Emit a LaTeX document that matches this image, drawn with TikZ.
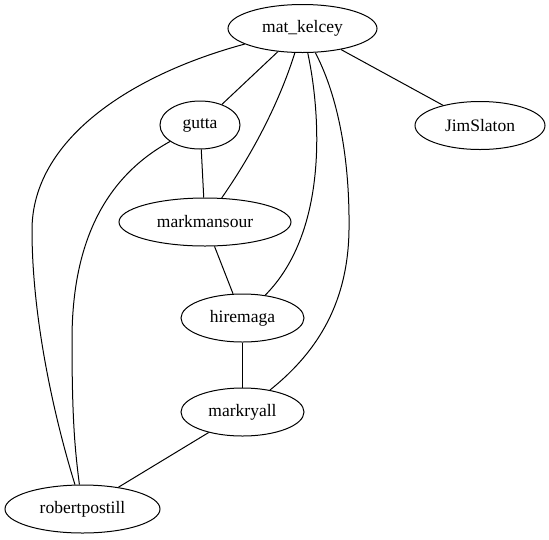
\documentclass[tikz,border=0pt]{standalone}
\usepackage{fontspec}
\setmainfont{Liberation Serif}
\usetikzlibrary{shapes.geometric}
\begin{document}
\begin{tikzpicture}[x=1pt,y=-1pt,
  gnode/.style={draw,ellipse,inner sep=0pt,line width=1pt,minimum height=48pt,font=\fontsize{17.5}{20}\selectfont},
  gedge/.style={line width=1pt}]
\useasboundingbox (0,0) rectangle (549,539);
\node[gnode,minimum width=149pt] (mk) at (302.5,28.5) {mat\_kelcey};
\node[gnode,minimum width=130pt] (js) at (480,125.5) {JimSlaton};
\node[gnode,minimum width=80pt] (gu) at (200,125) {gutta};
\node[gnode,minimum width=172pt] (mm) at (205,222) {markmansour};
\node[gnode,minimum width=123pt] (hm) at (242.5,318) {hiremaga};
\node[gnode,minimum width=123pt] (mr) at (242.5,412) {markryall};
\node[gnode,minimum width=155pt] (rp) at (82.5,509) {robertpostill};
\draw[gedge] (mk) -- (js);
\draw[gedge] (mk) -- (gu);
\draw[gedge] (mk) .. controls (280,100) and (255,150) .. (mm);
\draw[gedge] (mk) .. controls (320,110) and (330,230) .. (hm);
\draw[gedge] (mk) .. controls (335,90) and (350,150) .. (349,230) .. controls (348,300) and (320,350) .. (mr);
\draw[gedge] (mk) .. controls (130,75) and (32,140) .. (32,230) .. controls (32,320) and (55,420) .. (rp);
\draw[gedge] (gu) .. controls (100,180) and (72,250) .. (72,340) .. controls (72,420) and (75,450) .. (rp);
\draw[gedge] (gu) -- (mm);
\draw[gedge] (mm) -- (hm);
\draw[gedge] (hm) -- (mr);
\draw[gedge] (mr) -- (rp);
\end{tikzpicture}
\end{document}
